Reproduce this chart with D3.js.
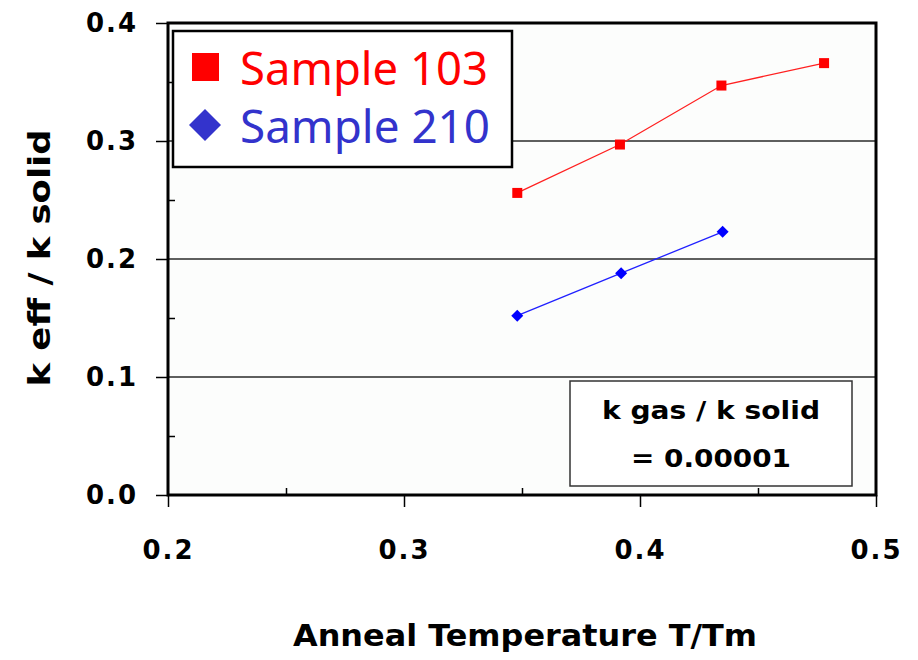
<!DOCTYPE html>
<html>
<head>
<meta charset="utf-8">
<script src="https://cdn.jsdelivr.net/npm/d3@7/dist/d3.min.js"></script>
<style>
  body { margin: 0; background: #ffffff; }
  svg { display: block; }
</style>
</head>
<body>
<svg id="chart" width="918" height="660"></svg>
<script>
// data
const temps103 = [0.348, 0.3915, 0.4345, 0.478];
const keff103 = [0.256, 0.297, 0.347, 0.366];
const temps210 = [0.348, 0.392, 0.435];
const keff210 = [0.152, 0.188, 0.223];
const xTicks = [0.2, 0.3, 0.4, 0.5];
const yTicks = [0.0, 0.1, 0.2, 0.3, 0.4];
const xMinor = [0.25, 0.35, 0.45];
const yMinor = [0.05, 0.15, 0.25, 0.35];
const seriesNames = ['Sample 103', 'Sample 210'];
const noteLines = ['k gas / k solid', '= 0.00001'];

const svg = d3.select('#chart');
const plotL = 168, plotR = 876, plotT = 23, plotB = 495;

const x = d3.scaleLinear().domain([0.2, 0.5]).range([plotL, plotR]);
const y = d3.scaleLinear().domain([0, 0.4]).range([plotB, plotT]);

const tickFont = 'DejaVu Sans, Verdana, sans-serif';
const comicFont = 'Noto Sans, DejaVu Sans, sans-serif';

// plot background (very faint tint)
svg.append('rect')
  .attr('x', plotL).attr('y', plotT)
  .attr('width', plotR - plotL).attr('height', plotB - plotT)
  .attr('fill', '#fcfdfc');

// horizontal gridlines
svg.append('g')
  .selectAll('line')
  .data(yTicks.filter(v => v > 0 && v < 0.4))
  .join('line')
  .attr('x1', plotL).attr('x2', plotR)
  .attr('y1', d => y(d)).attr('y2', d => y(d))
  .attr('stroke', '#2a2a2a')
  .attr('stroke-width', 1.4);

// y axis: major ticks outside, minor ticks inside
const yAxis = svg.append('g')
  .attr('transform', `translate(${plotL},0)`)
  .call(d3.axisLeft(y).tickValues(yTicks).tickSize(12).tickPadding(18).tickFormat(d3.format('.1f')));
yAxis.select('.domain').remove();
yAxis.selectAll('line').attr('stroke', '#000').attr('stroke-width', 1.5);
yAxis.selectAll('text')
  .attr('font-family', tickFont).attr('font-weight', 'bold')
  .attr('font-size', 26).attr('letter-spacing', 2).attr('fill', '#000');

svg.append('g')
  .attr('transform', `translate(${plotL},0)`)
  .call(d3.axisRight(y).tickValues(yMinor).tickSize(7).tickFormat(''))
  .call(g => g.select('.domain').remove())
  .selectAll('line').attr('stroke', '#000').attr('stroke-width', 1.5);

// x axis: major ticks outside, minor ticks inside
const xAxis = svg.append('g')
  .attr('transform', `translate(0,${plotB})`)
  .call(d3.axisBottom(x).tickValues(xTicks).tickSize(12).tickPadding(34).tickFormat(d3.format('.1f')));
xAxis.select('.domain').remove();
xAxis.selectAll('line').attr('stroke', '#000').attr('stroke-width', 1.5);
xAxis.selectAll('text')
  .attr('font-family', tickFont).attr('font-weight', 'bold')
  .attr('font-size', 26).attr('letter-spacing', 2).attr('fill', '#000');

svg.append('g')
  .attr('transform', `translate(0,${plotB})`)
  .call(d3.axisTop(x).tickValues(xMinor).tickSize(7).tickFormat(''))
  .call(g => g.select('.domain').remove())
  .selectAll('line').attr('stroke', '#000').attr('stroke-width', 1.5);

// frame
svg.append('rect')
  .attr('x', plotL).attr('y', plotT)
  .attr('width', plotR - plotL).attr('height', plotB - plotT)
  .attr('fill', 'none')
  .attr('stroke', '#000')
  .attr('stroke-width', 3);

// series
const line = d3.line().x(d => x(d[0])).y(d => y(d[1]));
const pts103 = temps103.map((t, i) => [t, keff103[i]]);
const pts210 = temps210.map((t, i) => [t, keff210[i]]);

svg.append('path').datum(pts103)
  .attr('d', line).attr('fill', 'none')
  .attr('stroke', '#ff2020').attr('stroke-width', 1.3);
svg.append('path').datum(pts210)
  .attr('d', line).attr('fill', 'none')
  .attr('stroke', '#2020ff').attr('stroke-width', 1.3);

svg.append('g').selectAll('rect')
  .data(pts103)
  .join('rect')
  .attr('x', d => x(d[0]) - 5).attr('y', d => y(d[1]) - 5)
  .attr('width', 10).attr('height', 10)
  .attr('fill', '#ff0000');

svg.append('g').selectAll('path')
  .data(pts210)
  .join('path')
  .attr('d', d3.symbol(d3.symbolSquare, 72)())
  .attr('transform', d => `translate(${x(d[0])},${y(d[1])}) rotate(45)`)
  .attr('fill', '#0000ff');

// legend
const leg = svg.append('g');
leg.append('rect')
  .attr('x', 173).attr('y', 31).attr('width', 339).attr('height', 136)
  .attr('fill', '#ffffff').attr('stroke', '#000').attr('stroke-width', 2.5);
leg.append('rect')
  .attr('x', 192).attr('y', 53).attr('width', 27).attr('height', 28)
  .attr('fill', '#ff0000');
leg.append('path')
  .attr('d', d3.symbol(d3.symbolSquare, 512)())
  .attr('transform', 'translate(205,125) rotate(45)')
  .attr('fill', '#3333cc');
leg.append('text')
  .attr('x', 240).attr('y', 85)
  .attr('font-family', comicFont).attr('font-size', 45)
  .attr('textLength', 248).attr('lengthAdjust', 'spacingAndGlyphs')
  .attr('fill', '#ff0000')
  .text(seriesNames[0]);
leg.append('text')
  .attr('x', 240).attr('y', 143)
  .attr('font-family', comicFont).attr('font-size', 45)
  .attr('textLength', 250).attr('lengthAdjust', 'spacingAndGlyphs')
  .attr('fill', '#3333cc')
  .text(seriesNames[1]);

// note box
const note = svg.append('g');
note.append('rect')
  .attr('x', 570).attr('y', 381).attr('width', 282).attr('height', 105)
  .attr('fill', '#ffffff').attr('stroke', '#333').attr('stroke-width', 1.5);
note.append('text')
  .attr('x', 711).attr('y', 419)
  .attr('text-anchor', 'middle')
  .attr('font-family', tickFont).attr('font-weight', 'bold').attr('font-size', 25)
  .attr('textLength', 218).attr('lengthAdjust', 'spacingAndGlyphs')
  .text(noteLines[0]);
note.append('text')
  .attr('x', 711).attr('y', 467)
  .attr('text-anchor', 'middle')
  .attr('font-family', tickFont).attr('font-weight', 'bold').attr('font-size', 25)
  .attr('textLength', 160).attr('lengthAdjust', 'spacingAndGlyphs')
  .text(noteLines[1]);

// axis titles
svg.append('text')
  .attr('x', 525).attr('y', 646)
  .attr('text-anchor', 'middle')
  .attr('font-family', tickFont).attr('font-weight', 'bold').attr('font-size', 31)
  .attr('textLength', 464).attr('lengthAdjust', 'spacingAndGlyphs')
  .text('Anneal Temperature T/Tm');

svg.append('text')
  .attr('transform', 'translate(50,258) rotate(-90)')
  .attr('text-anchor', 'middle')
  .attr('font-family', tickFont).attr('font-weight', 'bold').attr('font-size', 30)
  .attr('textLength', 257).attr('lengthAdjust', 'spacingAndGlyphs')
  .text('k eff / k solid');
</script>
</body>
</html>
